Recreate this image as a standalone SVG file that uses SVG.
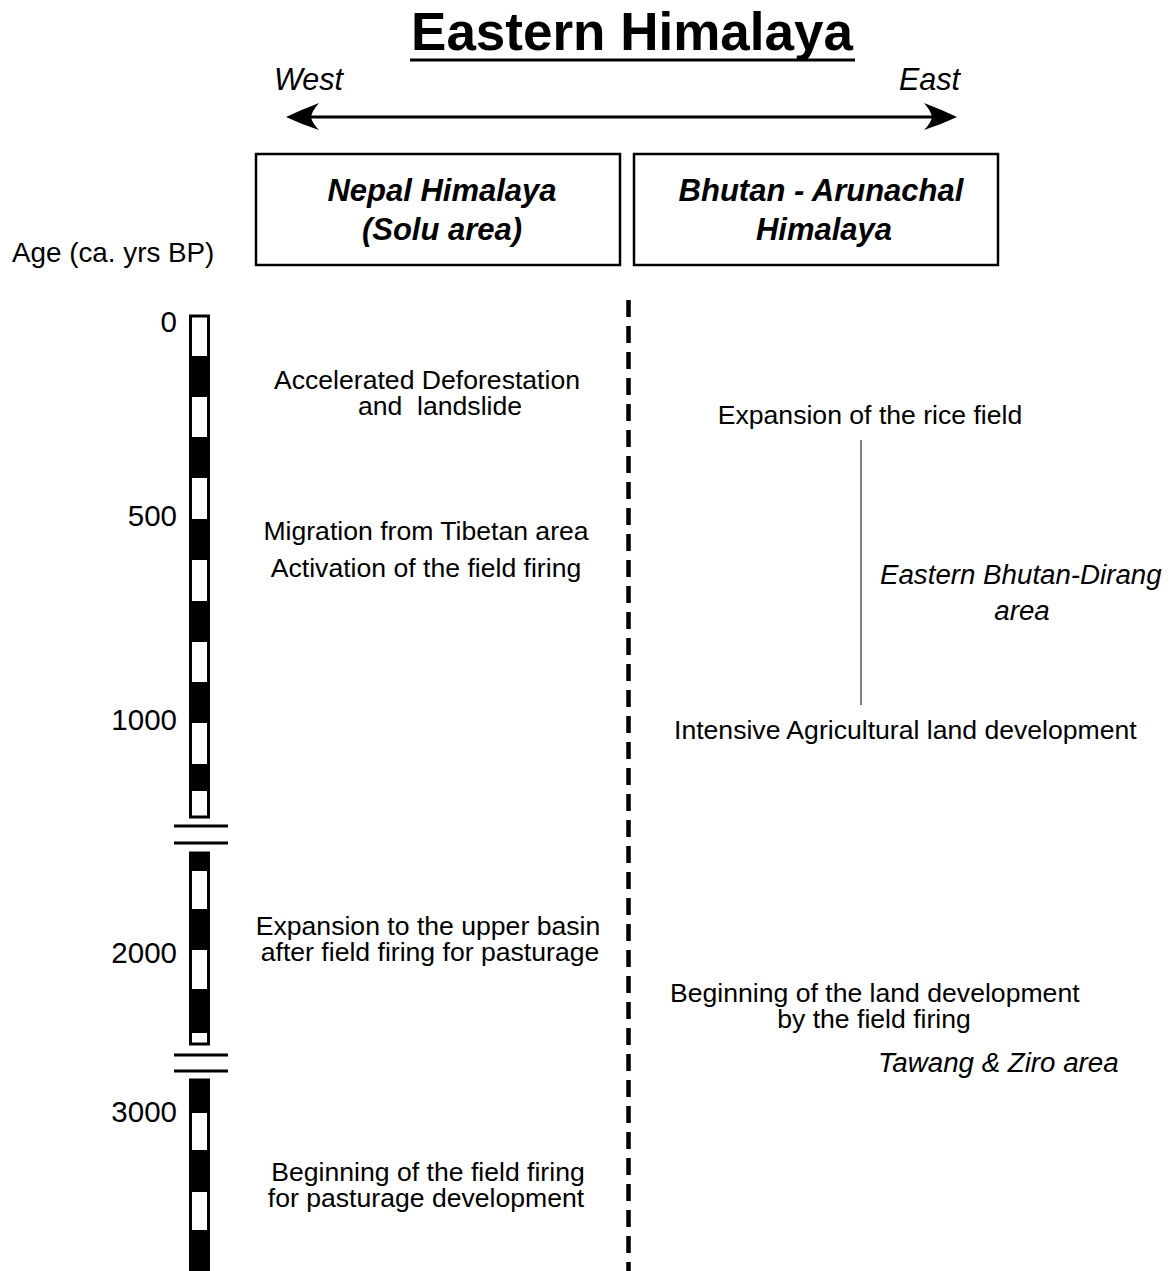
<svg xmlns="http://www.w3.org/2000/svg" width="1173" height="1271" viewBox="0 0 1173 1271">
<style>
.t{font-family:"Liberation Sans",Arial,sans-serif;font-size:26.6px;fill:#000}
.c{text-anchor:middle}
.num{font-family:"Liberation Sans",Arial,sans-serif;font-size:29.5px;text-anchor:end}
.hd{font-family:"Liberation Sans",Arial,sans-serif;font-size:31px;font-weight:bold;font-style:italic;text-anchor:middle}
.it{font-family:"Liberation Sans",Arial,sans-serif;font-size:27.7px;font-style:italic}
.box{fill:#fff;stroke:#000;stroke-width:2.5}
.blk{fill:#000}
.brk{stroke:#000;stroke-width:3}
</style>
<rect width="1173" height="1271" fill="#fff"/>
<g id="title">
<text x="632" y="50" font-family="Liberation Sans,Arial,sans-serif" font-size="53" font-weight="bold" text-anchor="middle">Eastern Himalaya</text>
<line x1="410" y1="60" x2="855" y2="60" stroke="#000" stroke-width="3"/>
</g>
<g id="direction">
<text x="274" y="90" font-family="Liberation Sans,Arial,sans-serif" font-size="30.5" font-style="italic">West</text>
<text x="899" y="90" font-family="Liberation Sans,Arial,sans-serif" font-size="30.5" font-style="italic">East</text>
<line x1="300" y1="117" x2="945" y2="117" stroke="#000" stroke-width="3"/>
<path d="M286,117 Q303,109 319,103 Q312,111 311,117 Q312,123 319,130 Q303,125 286,117 Z" fill="#000"/>
<path d="M957,117 Q940,109 924,103 Q931,111 932,117 Q931,123 924,130 Q940,125 957,117 Z" fill="#000"/>
</g>
<g id="box-nepal">
<rect class="box" x="256" y="154" width="364" height="111"/>
<text class="hd" x="442" y="201">Nepal Himalaya</text>
<text class="hd" x="442" y="240">(Solu area)</text>
</g>
<g id="box-bhutan">
<rect class="box" x="634" y="154" width="364" height="111"/>
<text class="hd" x="821" y="201">Bhutan - Arunachal</text>
<text class="hd" x="824" y="240">Himalaya</text>
</g>
<g id="age-axis">
<text x="12" y="262" font-family="Liberation Sans,Arial,sans-serif" font-size="27.8">Age (ca. yrs BP)</text>
<text class="num" x="177" y="332">0</text>
<text class="num" x="177" y="526">500</text>
<text class="num" x="177" y="730">1000</text>
<text class="num" x="177" y="963">2000</text>
<text class="num" x="177" y="1122">3000</text>
<rect x="190.5" y="316" width="18" height="501" fill="#fff" stroke="#000" stroke-width="3"/>
<rect class="blk" x="189" y="356" width="21" height="41"/>
<rect class="blk" x="189" y="437" width="21" height="41"/>
<rect class="blk" x="189" y="519" width="21" height="41"/>
<rect class="blk" x="189" y="601" width="21" height="41"/>
<rect class="blk" x="189" y="682" width="21" height="41"/>
<rect class="blk" x="189" y="764" width="21" height="27"/>
<line class="brk" x1="174" y1="826" x2="228" y2="826"/>
<line class="brk" x1="174" y1="843" x2="228" y2="843"/>
<rect x="190.5" y="853" width="18" height="191" fill="#fff" stroke="#000" stroke-width="3"/>
<rect class="blk" x="189" y="853" width="21" height="18"/>
<rect class="blk" x="189" y="909" width="21" height="41"/>
<rect class="blk" x="189" y="989" width="21" height="44"/>
<line class="brk" x1="174" y1="1055" x2="228" y2="1055"/>
<line class="brk" x1="174" y1="1071" x2="228" y2="1071"/>
<rect x="190.5" y="1080" width="18" height="195" fill="#fff" stroke="#000" stroke-width="3"/>
<rect class="blk" x="189" y="1080" width="21" height="33"/>
<rect class="blk" x="189" y="1150" width="21" height="42"/>
<rect class="blk" x="189" y="1230" width="21" height="41"/>
</g>
<g id="connectors">
<line x1="628.5" y1="300" x2="628.5" y2="1271" stroke="#000" stroke-width="4.5" stroke-dasharray="17 9"/>
<line x1="861" y1="440" x2="861" y2="705" stroke="#555" stroke-width="1.5"/>
</g>
<g id="nepal-events">
<text class="t c" x="427" y="389">Accelerated Deforestation</text>
<text class="t c" x="440" y="415" xml:space="preserve">and  landslide</text>
<text class="t c" x="426" y="540">Migration from Tibetan area</text>
<text class="t c" x="426" y="577">Activation of the field firing</text>
<text class="t c" x="428" y="935">Expansion to the upper basin</text>
<text class="t c" x="430" y="961">after field firing for pasturage</text>
<text class="t c" x="428" y="1181">Beginning of the field firing</text>
<text class="t c" x="426" y="1207">for pasturage development</text>
</g>
<g id="bhutan-events">
<text class="t c" x="870" y="424">Expansion of the rice field</text>
<text class="it" x="880" y="584">Eastern Bhutan-Dirang</text>
<text class="it c" x="1022" y="620">area</text>
<text class="t" x="674" y="739">Intensive Agricultural land development</text>
<text class="t" x="670" y="1002">Beginning of the land development</text>
<text class="t c" x="874" y="1028">by the field firing</text>
<text class="it" x="878" y="1072">Tawang &amp; Ziro area</text>
</g>
</svg>
